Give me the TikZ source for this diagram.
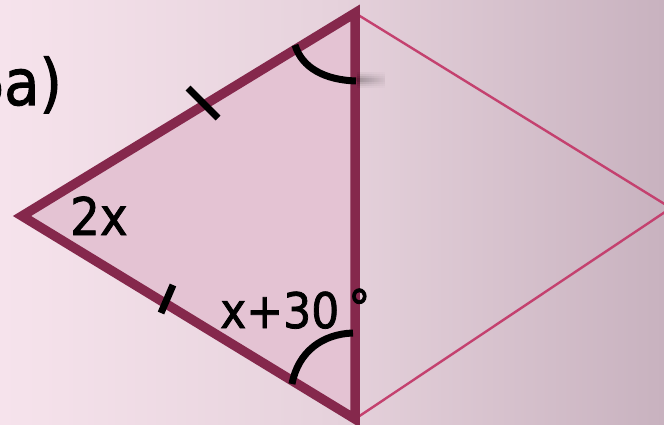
\documentclass[tikz,border=0pt]{standalone}
\usepackage{fontspec}
\setmainfont{DejaVu Sans Condensed}[FakeBold=1.6]
\usetikzlibrary{fadings}
\begin{document}
\begin{tikzpicture}[x=1pt,y=-1pt,
  thin edge/.style={draw=rhomb, line width=2.4pt},
  main tri/.style={draw=maroon, fill=trifill, line width=9.5pt, line join=miter, miter limit=20},
  tickmark/.style={draw=black, line width=7pt},
  anglemark/.style={draw=black, line width=7pt},
  lbl/.style={inner sep=0pt, font=\fontsize{49}{52}\selectfont}]
\definecolor{maroon}{HTML}{85284C}
\definecolor{trifill}{HTML}{E4C3D3}
\definecolor{rhomb}{HTML}{C4416F}
\definecolor{bgL}{HTML}{F6E3EC}
\definecolor{bgM}{HTML}{E6D2DC}
\definecolor{bgR}{HTML}{C8B2BF}
\useasboundingbox (0,0) rectangle (664,425);
\clip (0,0) rectangle (664,425);
\shade[left color=bgL, right color=bgR, middle color=bgM] (0,0) rectangle (664,425);
% vertices
\coordinate (L) at (22,216);
\coordinate (T) at (355,13);
\coordinate (B) at (355,419);
\coordinate (R) at (671,208);
% right half of rhombus
\draw[thin edge] (T) -- (R) -- (B);
% main triangle
\draw[main tri] (L) -- (T) -- (B) -- cycle;
% equal-side ticks
\coordinate (t1a) at (188,88); \coordinate (t1b) at (218,118);
\coordinate (t2a) at (173,285); \coordinate (t2b) at (161,313);
\draw[tickmark] (t1a) -- (t1b);
\draw[tickmark] (t2a) -- (t2b);
% soft shadow of top angle mark
\coordinate (s1) at (357,80); \coordinate (s2) at (385,80);
\foreach \w/\o in {16/.06,12/.08,8/.1,4/.12}
  \draw[black, opacity=\o, line width=\w pt, path fading=east] (s1) -- (s2);
% top angle mark
\draw[anglemark] (295,45) .. controls (302,68) and (325,80) .. (356,81);
% bottom angle mark
\draw[anglemark] (292,384) .. controls (298,352) and (322,334) .. (353,333);
% labels
\node[lbl, font=\fontsize{52}{56}\selectfont, anchor=base west] (lab2x) at (70,235) {2x};
\node[lbl, anchor=base west] (labx) at (220,328) {x+30\kern9pt\raisebox{3pt}{°}};
\node[inner sep=0pt, anchor=base west, font=\fontsize{64}{68}\selectfont] (laba) at (-31,105) {5\kern-1.6pt a)};
\end{tikzpicture}
\end{document}
